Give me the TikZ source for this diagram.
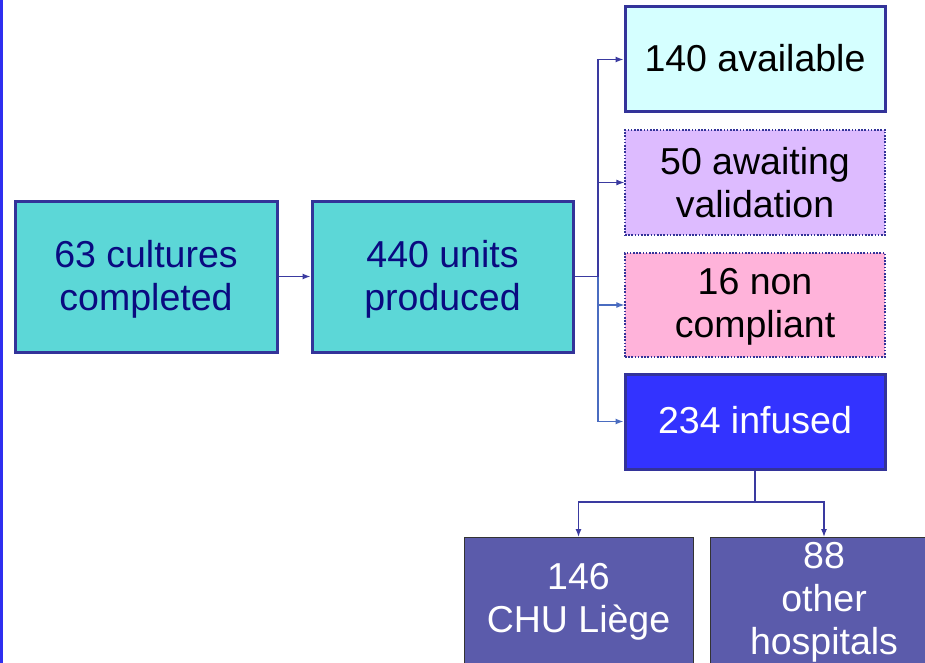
\documentclass[tikz,border=0pt]{standalone}
\usepackage{fontspec}
\setmainfont{Liberation Sans}
\usetikzlibrary{arrows.meta}
\definecolor{bord}{HTML}{333399}
\definecolor{tealf}{HTML}{5CD7D7}
\definecolor{navy}{HTML}{0A0A80}
\definecolor{cyanf}{HTML}{D5FFFF}
\definecolor{lavf}{HTML}{DDBBFF}
\definecolor{pinkf}{HTML}{FFB3DA}
\definecolor{inff}{HTML}{3333FF}
\definecolor{botf}{HTML}{5B5BAB}
\definecolor{conn}{HTML}{3A3AA0}
\definecolor{connl}{HTML}{4A6CC0}
\definecolor{barc}{HTML}{2F2FF0}
\tikzset{
  txt/.style={align=center, inner sep=0pt, font=\fontsize{37.5}{43}\selectfont},
  box/.style={draw=bord, line width=3pt, inner sep=0pt},
  tealbox/.style={box, fill=tealf, minimum width=262pt, minimum height=151pt},
  sidebox/.style={box, minimum width=260pt},
  dotbox/.style={sidebox, line width=1.3pt, dash pattern=on 1.6pt off 1.6pt},
  botbox/.style={draw=black!80, line width=1pt, fill=botf, minimum height=190pt, inner sep=0pt},
  arr/.style={draw=conn, line width=1.2pt, -{Latex[length=8pt,width=6pt]}},
  arrl/.style={draw=connl, line width=1.2pt, -{Latex[length=8pt,width=6pt]}},
  ln/.style={draw=conn, line width=1.2pt},
}
\begin{document}
\begin{tikzpicture}[x=1pt,y=-1pt]
\useasboundingbox (0,0) rectangle (925,663);
\clip (0,0) rectangle (925,663);
\fill[barc] (0,0) rectangle (3,663);
\node[tealbox, label={[txt, text=navy, yshift=-3pt]center:{63 cultures\\completed}}] (A) at (146,276.5) {};
\node[tealbox, minimum width=261pt, label={[txt, text=navy, yshift=-3pt]center:{440 units\\produced}}] (B) at (442.5,276.5) {};
\node[sidebox, fill=cyanf, minimum height=105pt, label={[txt, yshift=1pt]center:{140 available}}] (avail) at (755,59.5) {};
\node[dotbox, fill=lavf, minimum height=105pt, label={[txt]center:{50 awaiting\\validation}}] (await) at (755,182.5) {};
\node[dotbox, fill=pinkf, minimum height=104pt, label={[txt, yshift=-2pt]center:{16 non\\compliant}}] (nonc) at (755,305) {};
\node[sidebox, fill=inff, minimum height=95pt, label={[txt, text=white, yshift=1pt]center:{234 infused}}] (inf) at (755,421.5) {};
\node[botbox, minimum width=229pt, anchor=north] (chu) at (578.5,537) {};
\node[txt, text=white] (chut) at (578.5,602) {146\\CHU Liège};
\node[botbox, minimum width=228pt, anchor=north] (oth) at (824,537) {};
\node[txt, text=white] (otht) at (824,602) {88\\other\\hospitals};
\coordinate (j) at (598,276.5);
\coordinate (k) at (755,502);
\draw[arr] (A.east) -- (B.west);
\draw[ln] (B.east) -- (j);
\draw[arr] (j) |- (avail.west);
\draw[arr] (j) |- (await.west);
\draw[arrl] (j) |- (nonc.west);
\draw[arrl] (j) |- (inf.west);
\draw[ln] (inf.south) -- (k);
\draw[arr] (k) -| (chu.north);
\draw[arr] (k) -| (oth.north);
\end{tikzpicture}
\end{document}
